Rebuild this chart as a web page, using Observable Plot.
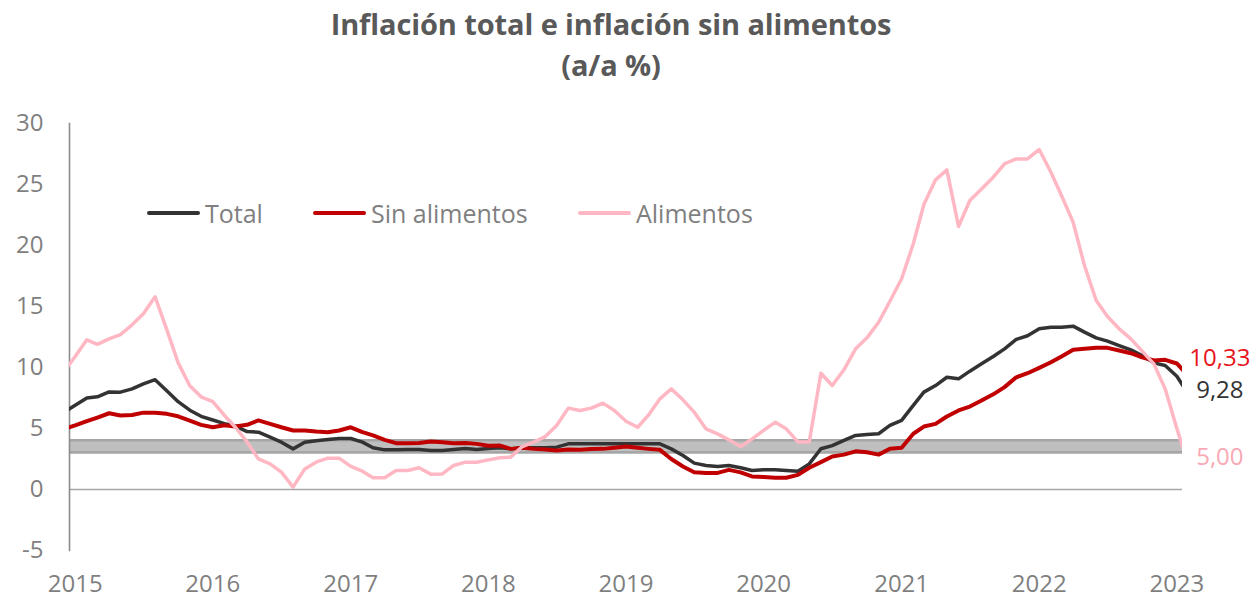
<!DOCTYPE html>
<html>
<head>
<meta charset="utf-8">
<script src="https://cdn.jsdelivr.net/npm/d3@7"></script>
<script src="https://cdn.jsdelivr.net/npm/@observablehq/plot@0.6"></script>
<style>
  html, body { margin: 0; padding: 0; background: #fff; }
  #wrap { position: relative; width: 1252px; height: 599px; overflow: hidden; background: #fff; }
  #title { height: 100px; box-sizing: border-box; padding-top: 3px; padding-right: 30px; text-align: center;
           font-family: "Open Sans", Lato, sans-serif; font-weight: 700; font-size: 29px;
           line-height: 41px; color: #595959; letter-spacing: -0.1px; }
  .leg { position: absolute; top: 197px; height: 32px; display: flex; align-items: center;
         font-family: "Open Sans", sans-serif; font-size: 25px; color: #7f7f7f; white-space: nowrap; }
  .leg .sw { width: 53px; height: 4px; margin-right: 5px; border-radius: 2px; }
</style>
</head>
<body>
<div id="wrap">
  <div id="title">Inflación total e inflación sin alimentos<br>(a/a %)</div>
  <div id="chart"></div>
</div>
<script>
// Monthly series, Dec 2014 .. Feb 2023 (first and last months are clipped by the axis range)
const firstMonth = new Date(Date.UTC(2014, 11, 1));
const endMonth = new Date(Date.UTC(2023, 2, 1));

const total = [6.3, 6.9, 7.5, 7.6, 8.0, 7.98, 8.25, 8.66, 9.0, 8.1,
  7.2, 6.5, 6.0, 5.7, 5.4, 5.2, 4.75, 4.7, 4.29, 3.88,
  3.33, 3.88, 4.0, 4.1, 4.18, 4.18, 3.88, 3.42, 3.25, 3.25,
  3.28, 3.28, 3.2, 3.2, 3.28, 3.36, 3.28, 3.36, 3.42, 3.33,
  3.42, 3.42, 3.42, 3.47, 3.74, 3.74, 3.74, 3.74, 3.74, 3.74,
  3.74, 3.74, 3.74, 3.33, 2.79, 2.16, 1.97, 1.89, 1.97, 1.78,
  1.56, 1.61, 1.61, 1.56, 1.5, 2.1, 3.34, 3.6, 4.02, 4.43,
  4.51, 4.57, 5.25, 5.66, 6.89, 7.98, 8.52, 9.2, 9.07, 9.7,
  10.3, 10.9, 11.53, 12.3, 12.6, 13.17, 13.3, 13.3, 13.39, 12.9,
  12.43, 12.16, 11.8, 11.45, 10.98, 10.38, 10.16, 9.28, 7.8];

const sinAlimentos = [4.95, 5.25, 5.6, 5.9, 6.25, 6.07, 6.1, 6.3, 6.3, 6.2,
  6.0, 5.65, 5.3, 5.1, 5.27, 5.16, 5.3, 5.66, 5.38, 5.1,
  4.84, 4.84, 4.75, 4.7, 4.84, 5.1, 4.7, 4.43, 4.07, 3.8,
  3.8, 3.82, 3.93, 3.88, 3.8, 3.82, 3.74, 3.58, 3.6, 3.33,
  3.42, 3.33, 3.28, 3.2, 3.28, 3.25, 3.31, 3.33, 3.42, 3.52,
  3.42, 3.33, 3.25, 2.5, 1.89, 1.42, 1.36, 1.36, 1.61, 1.4,
  1.07, 1.02, 0.96, 0.96, 1.2, 1.78, 2.24, 2.7, 2.86, 3.13,
  3.05, 2.86, 3.34, 3.42, 4.57, 5.16, 5.38, 5.98, 6.48, 6.8,
  7.3, 7.8, 8.39, 9.2, 9.53, 9.97, 10.43, 10.9, 11.45, 11.53,
  11.61, 11.61, 11.39, 11.17, 10.84, 10.57, 10.63, 10.33, 9.3];

const alimentos = [9.6, 10.9, 12.27, 11.9, 12.35, 12.7, 13.5, 14.4, 15.8, 13.1,
  10.4, 8.5, 7.6, 7.2, 6.07, 5.1, 3.9, 2.51, 2.1, 1.42,
  0.19, 1.69, 2.24, 2.57, 2.57, 1.89, 1.5, 0.96, 0.96, 1.56,
  1.56, 1.78, 1.26, 1.28, 1.97, 2.24, 2.24, 2.43, 2.6, 2.65,
  3.52, 3.88, 4.34, 5.25, 6.67, 6.48, 6.67, 7.08, 6.48, 5.6,
  5.1, 6.07, 7.43, 8.25, 7.35, 6.34, 4.97, 4.56, 4.07, 3.52,
  4.13, 4.84, 5.52, 4.97, 3.9, 3.9, 9.53, 8.52, 9.81, 11.53,
  12.43, 13.71, 15.43, 17.27, 20.14, 23.36, 25.38, 26.2, 21.56, 23.69,
  24.64, 25.6, 26.7, 27.1, 27.1, 27.87, 26.0, 24.1, 21.9, 18.36,
  15.5, 14.18, 13.17, 12.35, 11.34, 10.3, 8.25, 5.0, 2.0];

const seriesNames = ["Total", "Sin alimentos", "Alimentos"];
const seriesColors = ["#333333", "#c00000", "#ffb7c3"];
const labelColors = ["#333333", "#e8141b", "#f9a9b6"];
const endLabels = ["9,28", "10,33", "5,00"];
const targetBand = [3, 4];
const yTicks = [-5, 0, 5, 10, 15, 20, 25, 30];
const yearLabels = [2015, 2016, 2017, 2018, 2019, 2020, 2021, 2022, 2023];

const dates = d3.utcMonth.range(firstMonth, endMonth);
const rows = dates.map((d, i) => ({date: d, total: total[i], sin: sinAlimentos[i], alim: alimentos[i]}));
const lastIdx = dates.findIndex(d => +d === Date.UTC(2023, 0, 1));
const endRow = rows[lastIdx];
const yearTicks = yearLabels.map(y => new Date(Date.UTC(y, 0, 1)));

const chart = Plot.plot({
  width: 1252,
  height: 499,
  marginLeft: 69,
  marginRight: 70,
  marginTop: 23,
  marginBottom: 49,
  style: {fontFamily: "'Open Sans', sans-serif", fontSize: "24px", color: "#7f7f7f", background: "#fff", overflow: "visible"},
  x: {type: "utc", domain: [new Date(Date.UTC(2014, 11, 17)), new Date(Date.UTC(2023, 0, 16))]},
  y: {domain: [-5, 30]},
  marks: [
    Plot.areaY(rows, {x: "date", y1: () => targetBand[0], y2: () => targetBand[1],
      fill: "#bfbfbf", stroke: "#a6a6a6", strokeWidth: 2.6, clip: true}),
    Plot.ruleY([0], {stroke: "#a6a6a6", strokeWidth: 1.6}),
    Plot.frame({anchor: "left", stroke: "#8c8c8c", strokeWidth: 1.6}),
    Plot.axisY({ticks: yTicks, tickSize: 0, tickPadding: 26, label: null, fontSize: 24, tickFormat: d => String(d)}),
    Plot.axisX({ticks: yearTicks, tickSize: 0, tickPadding: 24, tickFormat: d3.utcFormat("%Y"), label: null, fontSize: 24}),
    Plot.lineY(rows, {x: "date", y: "total", stroke: seriesColors[0], strokeWidth: 3.5, clip: true}),
    Plot.lineY(rows, {x: "date", y: "sin", stroke: seriesColors[1], strokeWidth: 4, clip: true}),
    Plot.lineY(rows, {x: "date", y: "alim", stroke: seriesColors[2], strokeWidth: 3.5, clip: true}),
    Plot.text([endRow], {x: "date", y: "sin", text: () => endLabels[1], fill: labelColors[1], dx: 43, dy: -5, fontSize: 24}),
    Plot.text([endRow], {x: "date", y: "total", text: () => endLabels[0], fill: labelColors[0], dx: 43, dy: 14, fontSize: 24}),
    Plot.text([endRow], {x: "date", y: "alim", text: () => endLabels[2], fill: labelColors[2], dx: 43, dy: 29, fontSize: 24})
  ]
});
document.getElementById("chart").appendChild(chart);

// Legend (inside the plot area, as in the original)
const legendLeft = [147, 313, 578];
const wrap = document.getElementById("wrap");
seriesNames.forEach((name, i) => {
  const item = document.createElement("div");
  item.className = "leg";
  item.style.left = legendLeft[i] + "px";
  item.innerHTML = `<div class="sw" style="background:${seriesColors[i]}"></div><span>${name}</span>`;
  wrap.appendChild(item);
});
</script>
</body>
</html>
